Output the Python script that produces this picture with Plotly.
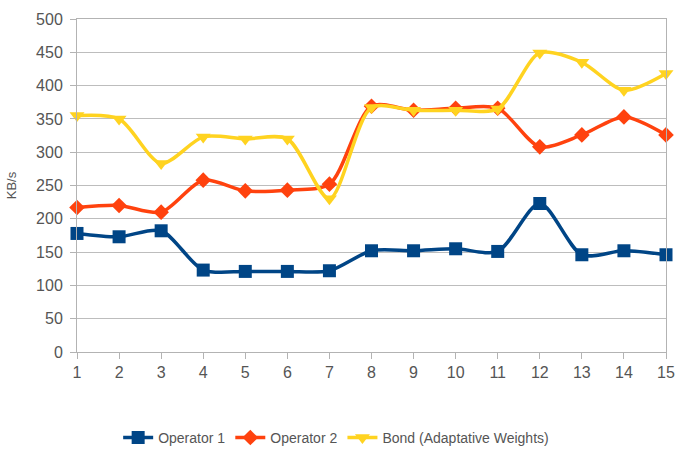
import plotly.graph_objects as go

# readings from the reference chart
samples = list(range(1, 16))
operator_1 = [178, 173, 182, 123, 121, 121, 122, 152, 152, 155, 151, 223, 146, 152, 146]
operator_2 = [217, 220, 210, 258, 242, 243, 252, 369, 363, 366, 366, 308, 326, 353, 326]
bond_adaptive = [355, 350, 283, 323, 320, 320, 230, 367, 363, 363, 365, 449, 435, 393, 418]
y_ticks = list(range(0, 501, 50))

series = [
    ("Operator 1", operator_1, "#004586", "square", 13),
    ("Operator 2", operator_2, "#ff420e", "diamond", 12),
    ("Bond (Adaptative Weights)", bond_adaptive, "#ffd320", "triangle-down", 13),
]

font_family = "Liberation Sans, Arial, sans-serif"

fig = go.Figure()
for name, values, colour, symbol, size in series:
    fig.add_trace(
        go.Scatter(
            x=samples,
            y=values,
            name=name,
            mode="lines+markers",
            line=dict(color=colour, width=3.5, shape="spline", smoothing=0.8),
            marker=dict(color=colour, symbol=symbol, size=size),
            cliponaxis=False,
        )
    )

fig.update_layout(
    width=676,
    height=449,
    margin=dict(l=77, r=10, t=19, b=97, autoexpand=False),
    paper_bgcolor="white",
    plot_bgcolor="white",
    font=dict(family=font_family, color="#555555", size=14),
    showlegend=True,
    legend=dict(
        orientation="h",
        x=0.44,
        xanchor="center",
        y=-0.21,
        yanchor="top",
        font=dict(size=14, color="#555555"),
    ),
)

fig.update_xaxes(
    range=[0.9999, 15.0001],
    tickvals=samples,
    tickangle=0,
    ticklabeloverflow="allow",
    showgrid=False,
    showline=True,
    linecolor="#b3b3b3",
    linewidth=1,
    mirror=True,
    ticks="outside",
    ticklen=6,
    tickcolor="#b3b3b3",
    zeroline=False,
    tickfont=dict(size=16),
)
fig.update_yaxes(
    range=[0, 500],
    tickvals=y_ticks,
    showgrid=True,
    gridcolor="#bdbdbd",
    gridwidth=1,
    showline=True,
    linecolor="#b3b3b3",
    linewidth=1,
    mirror=True,
    ticks="outside",
    ticklen=6,
    tickcolor="#b3b3b3",
    ticklabelstandoff=4,
    zeroline=False,
    tickfont=dict(size=16),
    title=dict(text="KB/s", font=dict(size=13), standoff=16),
)

# drop the default page margin so the 676x449 figure fits the window exactly
fig.write_html(
    "out.html",
    config={"displayModeBar": False},
    post_script="document.body.style.margin='0';",
)
